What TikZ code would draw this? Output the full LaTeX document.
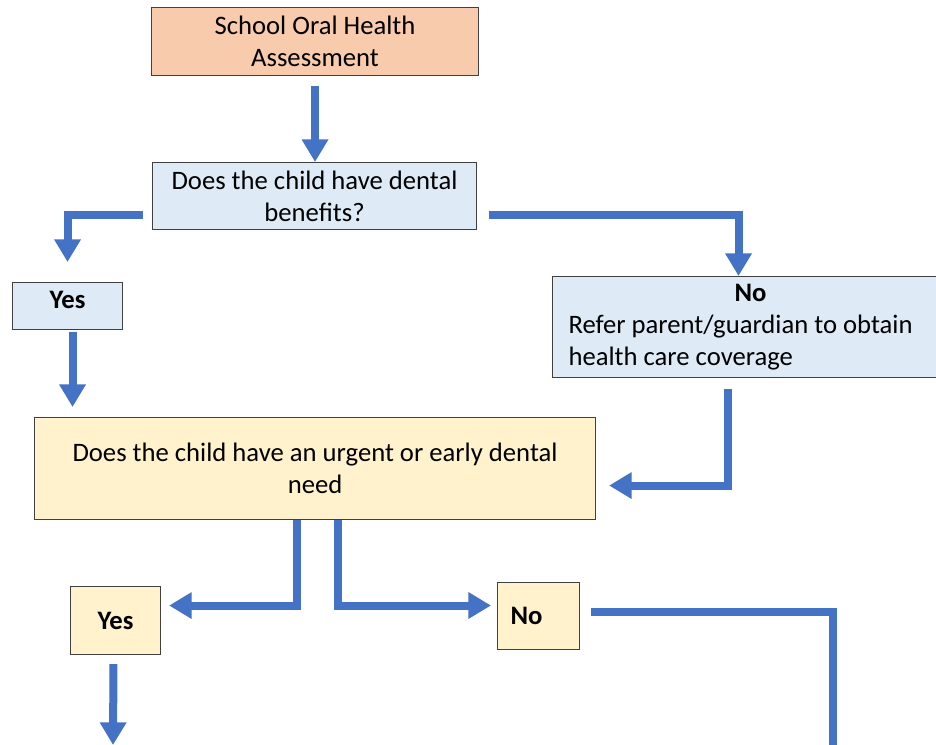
\documentclass[tikz,border=0pt]{standalone}
\usepackage{fontspec}
\setmainfont{Carlito}
\usepackage{tikz}
\usetikzlibrary{arrows.meta, positioning}

\definecolor{peach}{HTML}{F8CBAD}
\definecolor{paleblue}{HTML}{DEEBF7}
\definecolor{paleyellow}{HTML}{FFF2CC}
\definecolor{flowblue}{HTML}{4472C4}

\begin{document}
\begin{tikzpicture}[
    x=0.75pt, y=-0.75pt,
    box/.style={draw=black!75, line width=0.8pt, inner sep=0pt, anchor=north west, align=center, font=\fontsize{20}{24}\selectfont},
    start/.style={box, fill=peach},
    ask/.style={box, fill=paleblue},
    need/.style={box, fill=paleyellow},
    arr/.style={-{Triangle[width=19pt, length=17pt]}, line width=6pt, draw=flowblue},
    feed/.style={line width=6pt, draw=flowblue},
]
\useasboundingbox (0,0) rectangle (936,745);
\clip (0,0) rectangle (936,745);

\node[start, minimum width=245.25pt, minimum height=51pt] (soha) at (151,7) {School Oral Health\\Assessment};
\node[ask, minimum width=243pt, minimum height=50.25pt] (benefits) at (152,162) {Does the child have dental\\benefits?};
\node[ask, minimum width=82.5pt, minimum height=35.25pt, text depth=9pt] (yesben) at (12,282) {\textbf{Yes}};
\node[ask, align=flush left, text width=273pt, inner xsep=12pt, minimum height=75.75pt] (noben) at (552,276)
    {\makebox[\hsize]{\textbf{No}}\\Refer parent/guardian to obtain\\health care coverage};
\node[need, minimum width=420.75pt, minimum height=76.5pt] (urgent) at (34,417) {Does the child have an urgent or early dental\\need};
\node[need, minimum width=67.5pt, minimum height=51pt] (yesurg) at (70,586) {\textbf{Yes}};
\node[need, minimum width=61.5pt, minimum height=50.25pt] (nourg) at (497,582) {\textbf{No}\hspace{18pt}};

% free ends below the page edge
\coordinate (yesout) at (113,745);
\coordinate (noout) at (833,752);

\draw[arr, shorten <=7.5pt] (soha.south) -- (soha.south |- benefits.north);
\draw[arr, shorten <=7pt, shorten >=15pt] ([yshift=-14pt]benefits.west) -| (yesben.north);
\draw[arr, shorten <=9pt] ([yshift=-14pt]benefits.east) -| ([xshift=-9pt]noben.north);
\draw[arr, shorten <=1.5pt, shorten >=7.5pt] ([xshift=3.75pt]yesben.south) -- ([xshift=3.75pt]yesben.south |- urgent.north);
\draw[arr, shorten <=8.25pt, shorten >=9.75pt] ([xshift=-17.25pt]noben.south) |- ([yshift=-12.75pt]urgent.east);
\draw[arr, shorten >=6pt] ([xshift=-13.9pt]urgent.south) |- ([yshift=11.25pt]yesurg.east);
\draw[arr, shorten >=4.5pt] ([xshift=16.9pt]urgent.south) |- ([yshift=7.9pt]nourg.west);
\draw[feed, shorten <=8pt] ([yshift=3.4pt]nourg.east) -| (noout);
\draw[arr, shorten <=6.75pt] ([xshift=-1.5pt]yesurg.south) -- (yesout);

\end{tikzpicture}
\end{document}
